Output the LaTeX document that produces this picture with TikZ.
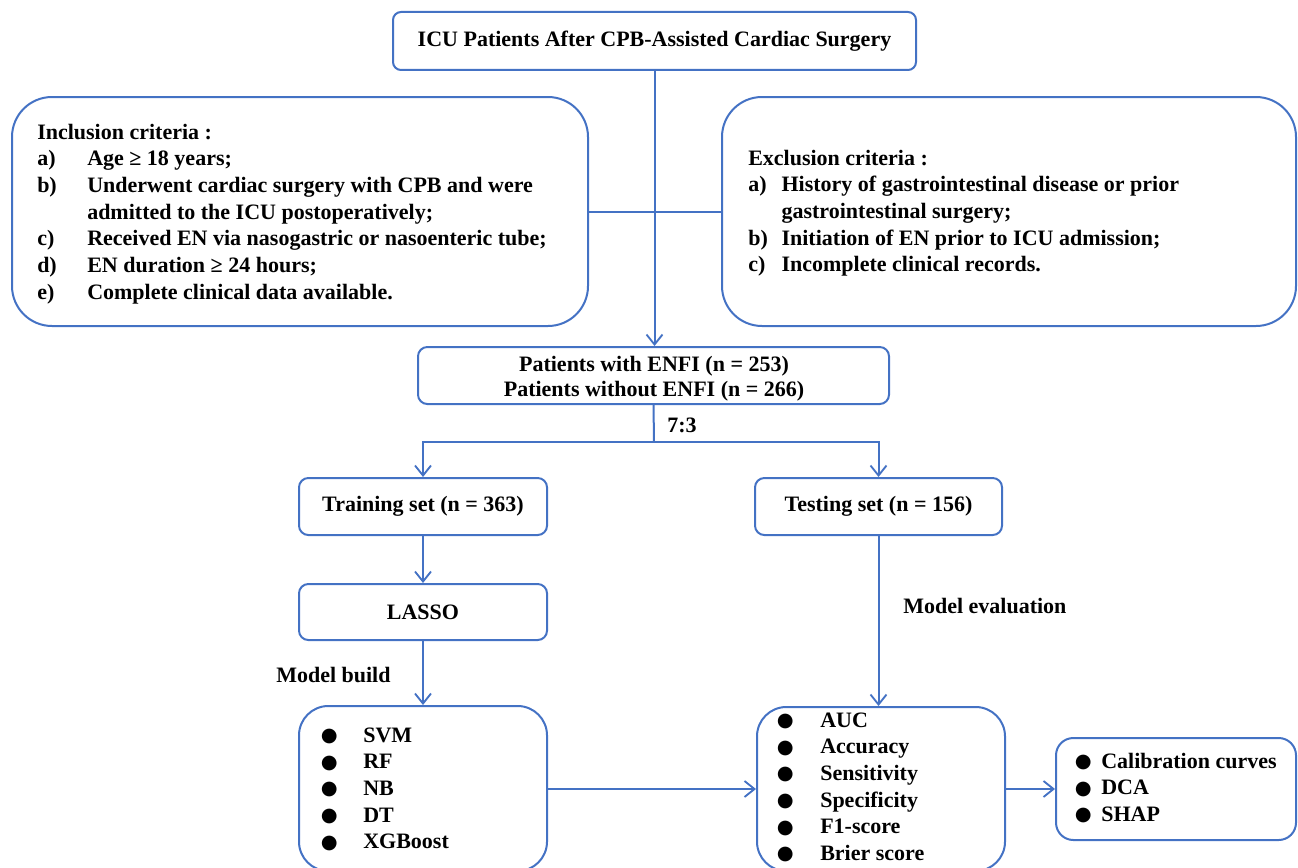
\documentclass[tikz,border=0pt]{standalone}
\usepackage{fontspec}
\setmainfont{Liberation Serif}
\newfontfamily\symfont{DejaVu Sans}
\usetikzlibrary{arrows.meta,fit}
\definecolor{lineblue}{RGB}{68,114,196}
\newcommand\bl[2]{\makebox[0pt]{\raisebox{0.3pt}{\symfont\fontsize{14.5}{20}\selectfont ●}}\hspace{#1}#2}
\begin{document}
\begin{tikzpicture}[x=0.75pt,y=-0.75pt,
  box/.style={draw=lineblue, line width=1.5pt, inner sep=0pt},
  conn/.style={draw=lineblue, line width=1.5pt},
  arr/.style={conn, -{Straight Barb[length=7.5pt,width=12pt,line width=1.4pt]}},
  txt/.style={font=\fontsize{16.5}{20}\selectfont\bfseries, inner sep=0pt},
]
\useasboundingbox (0,0) rectangle (1298,867);

% boxes
\node[box, rounded corners=6pt, fit={(393,12)(916,70)}] (title) {};
\node[box, rounded corners=30pt, fit={(12,97)(588,326)}] (incl) {};
\node[box, rounded corners=30pt, fit={(722,97)(1296,326)}] (excl) {};
\node[box, rounded corners=7pt, fit={(418,347)(889,404)}] (pat) {};
\node[box, rounded corners=7pt, fit={(299,478)(547,535)}] (train) {};
\node[box, rounded corners=7pt, fit={(755,478)(1002,535)}] (test) {};
\node[box, rounded corners=7pt, fit={(299,584)(547,640)}] (lasso) {};
\node[box, rounded corners=22pt, fit={(299,706)(547,871)}] (models) {};
\node[box, rounded corners=22pt, fit={(757,707)(1005,871)}] (metrics) {};
\node[box, rounded corners=13pt, fit={(1056,738)(1296,840)}] (final) {};

% texts
\node[txt] (titletxt) at (title.center) {ICU Patients After CPB-Assisted Cardiac Surgery};
\node[txt, anchor=base west] (incltxt) at (37,139) {%
\begin{tabular}[t]{@{}p{37.5pt}@{}l@{}}
\multicolumn{2}{@{}l@{}}{Inclusion criteria :}\\
a) & Age ≥ 18 years;\\
b) & Underwent cardiac surgery with CPB and were\\
   & admitted to the ICU postoperatively;\\
c) & Received EN via nasogastric or nasoenteric tube;\\
d) & EN duration ≥ 24 hours;\\
e) & Complete clinical data available.
\end{tabular}};
\node[txt, anchor=base west] (excltxt) at (748,165) {%
\begin{tabular}[t]{@{}p{25pt}@{}l@{}}
\multicolumn{2}{@{}l@{}}{Exclusion criteria :}\\
a) & History of gastrointestinal disease or prior\\
   & gastrointestinal surgery;\\
b) & Initiation of EN prior to ICU admission;\\
c) & Incomplete clinical records.
\end{tabular}};
\node[txt, font=\fontsize{16.5}{18.75}\selectfont\bfseries, anchor=base] (pattxt) at (654,371) {%
\begin{tabular}[t]{@{}c@{}}
Patients with ENFI (n = 253)\\Patients without ENFI (n = 266)
\end{tabular}};
\node[txt] (traintxt) at (train.center) {Training set (n = 363)};
\node[txt] (testtxt) at (test.center) {Testing set (n = 156)};
\node[txt] (lassotxt) at (lasso.center) {LASSO};
\node[txt, anchor=base west] (modelstxt) at (329,742) {%
\begin{tabular}[t]{@{}l@{}}
\bl{25.5pt}{SVM}\\ \bl{25.5pt}{RF}\\ \bl{25.5pt}{NB}\\ \bl{25.5pt}{DT}\\ \bl{25.5pt}{XGBoost}
\end{tabular}};
\node[txt, anchor=base west] (metricstxt) at (785,727) {%
\begin{tabular}[t]{@{}l@{}}
\bl{26.25pt}{AUC}\\ \bl{26.25pt}{Accuracy}\\ \bl{26.25pt}{Sensitivity}\\ \bl{26.25pt}{Specificity}\\ \bl{26.25pt}{F1-score}\\ \bl{26.25pt}{Brier score}
\end{tabular}};
\node[txt, anchor=base west] (finaltxt) at (1083,768) {%
\begin{tabular}[t]{@{}l@{}}
\bl{13.5pt}{Calibration curves}\\ \bl{13.5pt}{DCA}\\ \bl{13.5pt}{SHAP}
\end{tabular}};

% labels
\node[txt, anchor=west] (ratio) at (667,425) {7:3};
\node[txt, anchor=west] (evallbl) at (903,606) {Model evaluation};
\node[txt, anchor=west] (buildlbl) at (276,675) {Model build};

% connectors
\draw[conn] (incl.east) -- (excl.west);
\draw[arr] (title.south) -- (title.south |- pat.north);
\coordinate (split) at (654,442);
\draw[conn] (pat.south) -- (split);
\draw[arr] (split) -| (train.north);
\draw[arr] (split) -| (test.north);
\draw[arr] (train.south) -- (lasso.north);
\draw[arr] (lasso.south) -- (models.north);
\draw[arr] (test.south) -- (test.south |- metrics.north);
\draw[arr] (models.east |- final.west) -- (metrics.west |- final.west);
\draw[arr] (metrics.east |- final.west) -- (final.west);
\end{tikzpicture}
\end{document}
